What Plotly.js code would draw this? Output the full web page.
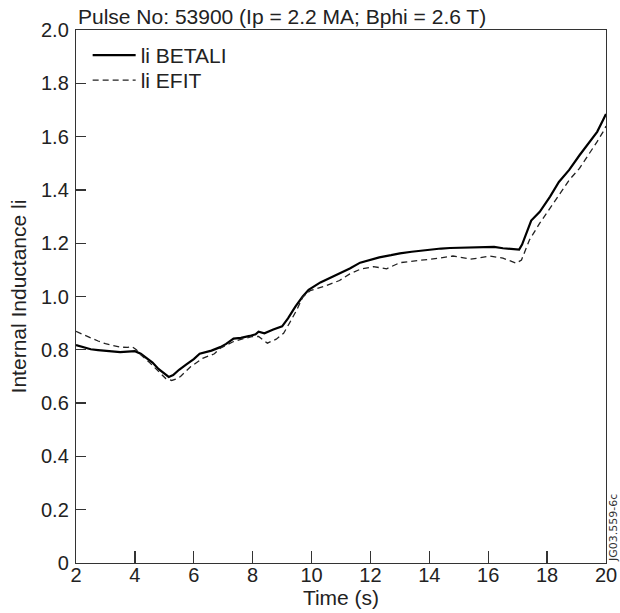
<!DOCTYPE html>
<html>
<head>
<meta charset="utf-8">
<script src="https://cdn.plot.ly/plotly-3.0.1.min.js"></script>
<style>html,body{margin:0;padding:0;background:#fff;}#chart{width:620px;height:613px;}</style>
</head>
<body>
<div id="chart"></div>
<script>
const betaliTime = [2.0,2.25,2.5,2.75,3.0,3.25,3.5,3.75,4.0,4.2,4.4,4.6,4.8,5.0,5.15,5.3,5.5,5.75,6.0,6.2,6.4,6.6,6.9,7.1,7.35,7.6,7.9,8.1,8.2,8.4,8.7,9.0,9.2,9.45,9.7,9.9,10.3,10.6,11.0,11.3,11.65,12.0,12.3,12.7,13.0,13.4,13.7,14.0,14.4,14.7,15.0,15.4,15.9,16.2,16.5,16.8,17.05,17.15,17.3,17.46,17.75,18.1,18.4,18.75,19.1,19.45,19.7,19.9,20.0];
const betaliLi = [0.818,0.81,0.802,0.799,0.797,0.793,0.791,0.793,0.795,0.785,0.768,0.752,0.728,0.71,0.698,0.705,0.725,0.745,0.765,0.785,0.79,0.797,0.81,0.822,0.842,0.845,0.852,0.858,0.868,0.862,0.876,0.888,0.918,0.962,1.0,1.025,1.053,1.068,1.087,1.105,1.127,1.138,1.147,1.155,1.162,1.168,1.172,1.177,1.18,1.182,1.183,1.185,1.187,1.186,1.181,1.178,1.176,1.195,1.24,1.285,1.318,1.375,1.43,1.475,1.53,1.58,1.618,1.662,1.685];

const efitTime = [2.0,2.25,2.5,2.75,3.0,3.25,3.5,3.75,3.9,4.05,4.2,4.5,4.85,5.05,5.25,5.4,5.55,5.9,6.3,6.7,6.9,7.35,7.7,8.0,8.2,8.35,8.5,8.8,9.05,9.25,9.5,9.7,9.95,10.4,10.95,11.3,11.65,12.1,12.55,13.0,13.7,14.35,14.8,15.0,15.4,15.7,16.05,16.5,16.95,17.13,17.4,17.75,18.1,18.4,18.75,19.1,19.45,19.7,19.95,20.0];
const efitLi = [0.869,0.856,0.844,0.833,0.823,0.816,0.81,0.809,0.812,0.8,0.781,0.752,0.712,0.692,0.685,0.69,0.70,0.737,0.768,0.785,0.806,0.831,0.842,0.85,0.85,0.838,0.825,0.84,0.862,0.9,0.95,0.998,1.022,1.037,1.06,1.085,1.102,1.112,1.104,1.127,1.135,1.144,1.152,1.148,1.14,1.145,1.152,1.144,1.125,1.137,1.212,1.275,1.331,1.381,1.437,1.481,1.537,1.581,1.627,1.64];

const xTicks = [2,4,6,8,10,12,14,16,18,20];
const yTicks = [0,0.2,0.4,0.6,0.8,1.0,1.2,1.4,1.6,1.8,2.0];
const yTickText = ['0','0.2','0.4','0.6','0.8','1.0','1.2','1.4','1.6','1.8','2.0'];

const FONT = 'Liberation Sans, Arial, Helvetica, sans-serif';
const TICK_COLOR = '#333';

const traces = [
  {x: betaliTime, y: betaliLi, name: 'li BETALI', type: 'scatter', mode: 'lines',
   line: {color: '#000', width: 2.2}, legend: 'legend'},
  {x: efitTime, y: efitLi, name: 'li EFIT', type: 'scatter', mode: 'lines',
   line: {color: '#222', width: 1.3, dash: '6px,4px'}, legend: 'legend2'}
];

const legendCommon = {xanchor: 'left', yanchor: 'top', bgcolor: 'rgba(0,0,0,0)',
  font: {family: FONT, size: 21, color: '#222'}, itemwidth: 43};

const layout = {
  width: 620, height: 613,
  margin: {l: 76, r: 14, t: 30, b: 50, pad: 0},
  paper_bgcolor: '#fff', plot_bgcolor: '#fff',
  font: {family: FONT, size: 20, color: '#222'},
  showlegend: true,
  title: {text: 'Pulse No: 53900 (Ip = 2.2 MA; Bphi = 2.6 T)',
          font: {family: FONT, size: 21, color: '#222'},
          xref: 'paper', x: 0, xanchor: 'left', yref: 'container', y: 1 - 17/613, yanchor: 'middle', pad: {l: 2}},
  legend: Object.assign({x: 0.022, y: 0.9906}, legendCommon),
  legend2: Object.assign({x: 0.022, y: 0.9437}, legendCommon),
  xaxis: {range: [2, 20], tickvals: xTicks, ticktext: xTicks.map(String), ticks: 'inside', ticklen: 12,
          tickwidth: 1.3, tickcolor: TICK_COLOR,
          showline: true, linecolor: '#333', linewidth: 1.2, mirror: true,
          showgrid: false, zeroline: false, tickfont: {size: 20}, ticklabelstandoff: -6,
          title: {text: 'Time (s)', font: {size: 21}, standoff: 0}},
  yaxis: {range: [0, 2], tickvals: yTicks, ticktext: yTickText, ticks: 'inside', ticklen: 10,
          tickwidth: 1.3, tickcolor: TICK_COLOR,
          showline: true, linecolor: '#333', linewidth: 1.2, mirror: true,
          showgrid: false, zeroline: false, tickfont: {size: 20}, ticklabelstandoff: 2,
          title: {text: 'Internal Inductance li', font: {size: 21}, standoff: 8}},
  annotations: [{text: 'JG03.559-6c', xref: 'paper', yref: 'paper', x: 1, y: 0, xanchor: 'center', yanchor: 'bottom',
                 textangle: -90, showarrow: false, borderpad: 0, xshift: 7,
                 font: {family: 'DejaVu Sans, sans-serif', size: 11, color: '#333'}}]
};

Plotly.newPlot('chart', traces, layout, {displayModeBar: false, staticPlot: true});
</script>
</body>
</html>
